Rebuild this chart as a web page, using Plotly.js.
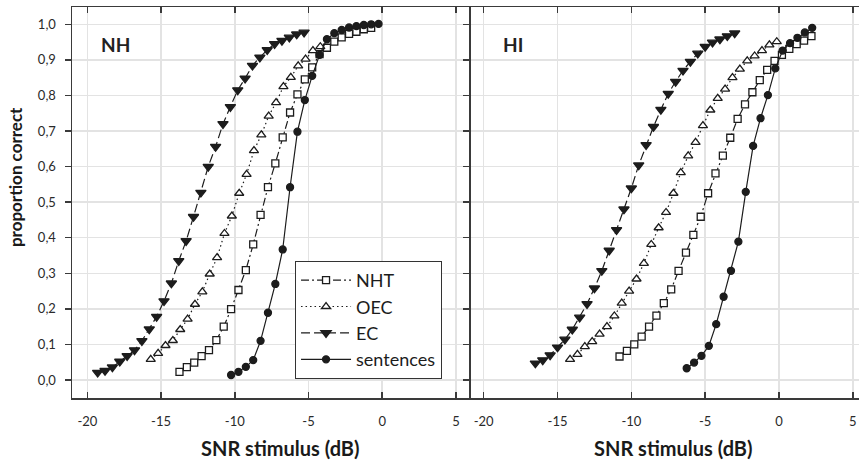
<!DOCTYPE html>
<html>
<head>
<meta charset="utf-8">
<script src="https://cdn.plot.ly/plotly-3.0.1.min.js"></script>
<style>
  html, body { margin: 0; padding: 0; background: #ffffff; }
  #chart { width: 859px; height: 463px; }
</style>
</head>
<body>
<div id="chart"></div>
<script>
// Psychometric functions: proportion correct vs. SNR, NH and HI listeners

// ---- NH panel ----
const nhSnrNHT = [-13.75, -13.25, -12.75, -12.25, -11.75, -11.25, -10.75, -10.25, -9.75, -9.25, -8.75, -8.25, -7.75, -7.25, -6.75, -6.25, -5.75, -5.25, -4.75, -4.25, -3.75, -3.25, -2.75, -2.25, -1.75, -1.25, -0.75];
const nhPcNHT  = [0.023, 0.036, 0.049, 0.067, 0.084, 0.112, 0.150, 0.199, 0.253, 0.309, 0.381, 0.464, 0.542, 0.609, 0.682, 0.752, 0.803, 0.845, 0.879, 0.916, 0.934, 0.951, 0.963, 0.973, 0.979, 0.986, 0.990];

const nhSnrOEC = [-15.7, -15.2, -14.7, -14.2, -13.7, -13.2, -12.7, -12.2, -11.7, -11.2, -10.7, -10.2, -9.7, -9.2, -8.7, -8.2, -7.7, -7.2, -6.7, -6.2, -5.7, -5.2, -4.7, -4.2];
const nhPcOEC  = [0.058, 0.075, 0.097, 0.111, 0.142, 0.171, 0.213, 0.248, 0.298, 0.344, 0.412, 0.461, 0.525, 0.578, 0.645, 0.689, 0.742, 0.780, 0.825, 0.851, 0.883, 0.902, 0.926, 0.937];

const nhSnrEC = [-19.3, -18.8, -18.3, -17.8, -17.3, -16.8, -16.3, -15.8, -15.3, -14.8, -14.3, -13.8, -13.3, -12.8, -12.3, -11.8, -11.3, -10.8, -10.3, -9.8, -9.3, -8.8, -8.3, -7.8, -7.3, -6.8, -6.3, -5.8, -5.3];
const nhPcEC  = [0.021, 0.026, 0.036, 0.052, 0.068, 0.084, 0.110, 0.143, 0.178, 0.222, 0.272, 0.335, 0.391, 0.459, 0.527, 0.600, 0.656, 0.720, 0.768, 0.815, 0.848, 0.884, 0.907, 0.928, 0.945, 0.954, 0.963, 0.972, 0.977];

const nhSnrSent = [-10.25, -9.75, -9.25, -8.75, -8.25, -7.75, -7.25, -6.75, -6.25, -5.75, -5.25, -4.75, -4.25, -3.75, -3.25, -2.75, -2.25, -1.75, -1.25, -0.75, -0.25];
const nhPcSent  = [0.014, 0.023, 0.037, 0.056, 0.110, 0.189, 0.270, 0.367, 0.542, 0.698, 0.787, 0.855, 0.914, 0.958, 0.975, 0.984, 0.991, 0.995, 0.998, 1.000, 1.001];

// ---- HI panel ----
const hiSnrNHT = [-10.8, -10.3, -9.8, -9.3, -8.8, -8.3, -7.8, -7.3, -6.8, -6.3, -5.8, -5.3, -4.8, -4.3, -3.8, -3.3, -2.8, -2.3, -1.8, -1.3, -0.8, -0.3, 0.2, 0.7, 1.2, 1.7, 2.2];
const hiPcNHT  = [0.066, 0.082, 0.100, 0.122, 0.150, 0.181, 0.216, 0.255, 0.307, 0.358, 0.408, 0.459, 0.525, 0.581, 0.631, 0.681, 0.734, 0.775, 0.809, 0.843, 0.872, 0.897, 0.914, 0.931, 0.944, 0.954, 0.967];

const hiSnrOEC = [-14.15, -13.65, -13.15, -12.65, -12.15, -11.65, -11.15, -10.65, -10.15, -9.65, -9.15, -8.65, -8.15, -7.65, -7.15, -6.65, -6.15, -5.65, -5.15, -4.65, -4.15, -3.65, -3.15, -2.65, -2.15, -1.65, -1.15, -0.65, -0.15];
const hiPcOEC  = [0.058, 0.072, 0.094, 0.108, 0.129, 0.150, 0.180, 0.216, 0.250, 0.284, 0.328, 0.381, 0.428, 0.471, 0.525, 0.583, 0.630, 0.668, 0.715, 0.759, 0.792, 0.818, 0.850, 0.874, 0.897, 0.911, 0.926, 0.942, 0.951];

const hiSnrEC = [-16.5, -16.0, -15.5, -15.0, -14.5, -14.0, -13.5, -13.0, -12.5, -12.0, -11.5, -11.0, -10.5, -10.0, -9.5, -9.0, -8.5, -8.0, -7.5, -7.0, -6.5, -6.0, -5.5, -5.0, -4.5, -4.0, -3.5, -3.0];
const hiPcEC  = [0.047, 0.056, 0.070, 0.092, 0.114, 0.142, 0.176, 0.214, 0.258, 0.307, 0.364, 0.422, 0.480, 0.539, 0.604, 0.661, 0.712, 0.760, 0.805, 0.839, 0.870, 0.895, 0.918, 0.937, 0.949, 0.958, 0.967, 0.975];

const hiSnrSent = [-6.25, -5.75, -5.25, -4.75, -4.25, -3.75, -3.25, -2.75, -2.25, -1.75, -1.25, -0.75, -0.25, 0.25, 0.75, 1.25, 1.75, 2.25];
const hiPcSent  = [0.033, 0.049, 0.068, 0.096, 0.157, 0.234, 0.307, 0.389, 0.529, 0.658, 0.736, 0.801, 0.876, 0.926, 0.947, 0.962, 0.977, 0.990];

// ---- ticks and labels ----
const xTickVals = [-20, -15, -10, -5, 0, 5];
const xTickText = ['-20', '-15', '-10', '-5', '0', '5'];
const yTickVals = [0, 0.1, 0.2, 0.3, 0.4, 0.5, 0.6, 0.7, 0.8, 0.9, 1.0];
const yTickText = ['0,0', '0,1', '0,2', '0,3', '0,4', '0,5', '0,6', '0,7', '0,8', '0,9', '1,0'];
const seriesNames = ['NHT', 'OEC', 'EC', 'sentences'];
const panelLabels = ['NH', 'HI'];
const xTitle = 'SNR stimulus (dB)';
const yTitle = 'proportion correct';

const INK = '#1c1c1c';
const AXIS = '#3a3a3a';
const GRID = '#e3e3e3';
const FAMILY = 'Lato, "Open Sans", sans-serif';
const TICKFONT = { family: FAMILY, size: 13, color: '#2a2a2a' };

// per-series appearance (hollow markers are white-filled with a dark outline)
const styles = [
  { dash: '8px,3px,2px,3px', symbol: 'square',        size: 7, fill: false },
  { dash: '1.5px,3px',       symbol: 'triangle-up',   size: 8, fill: false },
  { dash: '9px,4px',         symbol: 'triangle-down', size: 9, fill: true  },
  { dash: 'solid',           symbol: 'circle',        size: 7, fill: true  }
];

function makeTrace(i, xs, ys, xa, ya, showLegend) {
  const s = styles[i];
  return {
    x: xs, y: ys, xaxis: xa, yaxis: ya,
    name: seriesNames[i],
    type: 'scatter', mode: 'lines+markers',
    showlegend: showLegend,
    line: { color: INK, width: 1.2, dash: s.dash },
    marker: {
      symbol: s.symbol, size: s.size,
      color: s.fill ? INK : '#ffffff',
      line: { color: INK, width: 1.3 }
    }
  };
}

const traces = [
  makeTrace(0, nhSnrNHT,  nhPcNHT,  'x',  'y',  true),
  makeTrace(1, nhSnrOEC,  nhPcOEC,  'x',  'y',  true),
  makeTrace(2, nhSnrEC,   nhPcEC,   'x',  'y',  true),
  makeTrace(3, nhSnrSent, nhPcSent, 'x',  'y',  true),
  makeTrace(0, hiSnrNHT,  hiPcNHT,  'x2', 'y2', false),
  makeTrace(1, hiSnrOEC,  hiPcOEC,  'x2', 'y2', false),
  makeTrace(2, hiSnrEC,   hiPcEC,   'x2', 'y2', false),
  makeTrace(3, hiSnrSent, hiPcSent, 'x2', 'y2', false)
];

const SPLIT = 0.5066;
const xRangeNH = [-21.04, 6.0];
const xRangeHI = [-20.88, 5.42];
const yRange = [-0.0506, 1.0486];

// main axes: grid, labels, inner tick halves
function mainX(domain, range, anchor) {
  return {
    domain: domain, range: range, anchor: anchor,
    tickmode: 'array', tickvals: xTickVals, ticktext: xTickText,
    ticks: 'inside', ticklen: 6, tickwidth: 1.5, tickcolor: AXIS,
    showline: true, linecolor: AXIS, linewidth: 1.5, mirror: 'ticks',
    showgrid: true, gridcolor: GRID, gridwidth: 1.5, zeroline: false,
    tickfont: TICKFONT, ticklabelstandoff: 11, fixedrange: true
  };
}
function mainY(domain, range, anchor, labels) {
  return {
    domain: domain, range: range, anchor: anchor,
    tickmode: 'array', tickvals: yTickVals, ticktext: yTickText,
    ticks: 'outside', ticklen: 6, tickwidth: 1.5, tickcolor: AXIS,
    showline: true, linecolor: AXIS, linewidth: 1.5,
    showgrid: true, gridcolor: GRID, gridwidth: 1.5, zeroline: false,
    showticklabels: labels, tickfont: TICKFONT, ticklabelstandoff: 6, fixedrange: true
  };
}
// overlay axes carrying the other half of the crossing tick marks
function tickOverlay(over, range, anchor, vals, dir) {
  return {
    overlaying: over, anchor: anchor, range: range,
    tickmode: 'array', tickvals: vals,
    ticks: dir, ticklen: 5, tickwidth: 1.5, tickcolor: AXIS,
    showline: false, showgrid: false, zeroline: false,
    showticklabels: false, fixedrange: true
  };
}

const layout = {
  width: 859, height: 463,
  margin: { l: 72, r: 0, t: 7, b: 65 },
  paper_bgcolor: '#ffffff', plot_bgcolor: '#ffffff',
  font: { family: FAMILY, color: INK },
  xaxis:  mainX([0, SPLIT], xRangeNH, 'y'),
  xaxis2: mainX([SPLIT, 1], xRangeHI, 'y2'),
  yaxis:  mainY([0, 1], yRange, 'x', true),
  yaxis2: mainY([0, 1], yRange, 'x2', false),
  xaxis3: Object.assign(tickOverlay('x',  xRangeNH, 'y',  xTickVals, 'outside'), { side: 'bottom' }),
  xaxis4: Object.assign(tickOverlay('x2', xRangeHI, 'y2', xTickVals, 'outside'), { side: 'bottom' }),
  yaxis3: Object.assign(tickOverlay('y',  yRange, 'x',  yTickVals, 'inside'),  { side: 'left' }),
  yaxis4: Object.assign(tickOverlay('y2', yRange, 'x2', yTickVals, 'inside'),  { side: 'left' }),
  showlegend: true,
  legend: {
    x: 0.2834, y: 0.3506, xanchor: 'left', yanchor: 'top',
    bgcolor: '#ffffff', bordercolor: '#333333', borderwidth: 1,
    font: { family: FAMILY, size: 18, color: INK },
    tracegroupgap: 0, itemwidth: 50
  },
  annotations: [
    { text: '<b>' + panelLabels[0] + '</b>', xref: 'x',  yref: 'y',  x: -19.2, y: 0.942,
      xanchor: 'left', yanchor: 'middle', showarrow: false,
      font: { family: FAMILY, size: 19, color: '#222222' } },
    { text: '<b>' + panelLabels[1] + '</b>', xref: 'x2', yref: 'y2', x: -18.8, y: 0.942,
      xanchor: 'left', yanchor: 'middle', showarrow: false,
      font: { family: FAMILY, size: 19, color: '#222222' } },
    { text: '<b>' + xTitle + '</b>', xref: 'paper', yref: 'paper', x: 0.2643, y: -0.128,
      xanchor: 'center', yanchor: 'middle', showarrow: false,
      font: { family: FAMILY, size: 20, color: '#1a1a1a' } },
    { text: '<b>' + xTitle + '</b>', xref: 'paper', yref: 'paper', x: 0.7637, y: -0.128,
      xanchor: 'center', yanchor: 'middle', showarrow: false,
      font: { family: FAMILY, size: 20, color: '#1a1a1a' } },
    { text: '<b>' + yTitle + '</b>', xref: 'paper', yref: 'paper', x: -0.0724, y: 0.565,
      xanchor: 'center', yanchor: 'middle', textangle: -90, showarrow: false,
      font: { family: FAMILY, size: 17, color: '#1a1a1a' } }
  ]
};

Plotly.newPlot('chart', traces, layout, { staticPlot: true, displayModeBar: false });
</script>
</body>
</html>
